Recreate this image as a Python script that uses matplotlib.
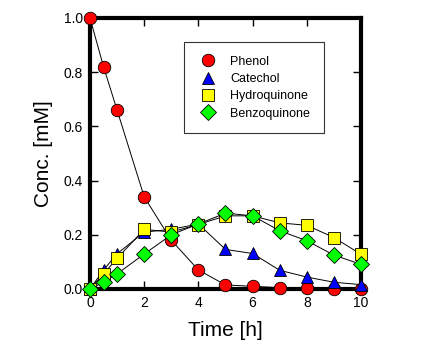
import numpy as np
import matplotlib.pyplot as plt

plt.rcParams['font.family'] = ['Liberation Sans', 'DejaVu Sans']

# ---------------- DATA ----------------
time_h = [0, 0.5, 1, 2, 3, 4, 5, 6, 7, 8, 9, 10]
phenol = [1.0, 0.82, 0.66, 0.34, 0.18, 0.07, 0.015, 0.01, 0.005, 0.005, 0.0, 0.0]
catechol = [0.0, 0.07, 0.13, 0.21, 0.22, 0.24, 0.146, 0.131, 0.069, 0.044, 0.025, 0.016]
hydroquinone = [0.0, 0.056, 0.113, 0.22, 0.21, 0.238, 0.27, 0.27, 0.244, 0.235, 0.19, 0.128]
benzoquinone = [0.0, 0.025, 0.056, 0.129, 0.20, 0.24, 0.28, 0.27, 0.215, 0.178, 0.125, 0.091]
# ----------------------------------------

fig = plt.figure(figsize=(4.31, 3.59), dpi=100)
ax = fig.add_axes([90 / 431, 1 - 289 / 359, 271 / 431, 271 / 359])

series = [
    (phenol, 'Phenol', 'o', '#ff0000', 9),
    (catechol, 'Catechol', '^', '#0000ff', 9),
    (hydroquinone, 'Hydroquinone', 's', '#ffff00', 8.5),
    (benzoquinone, 'Benzoquinone', 'D', '#00ff00', 8.5),
]

# lines first, then markers on top
for ys, name, mk, col, ms in series:
    ax.plot(time_h, ys, color='black', lw=0.7, zorder=2, clip_on=False)
handles = []
for i, (ys, name, mk, col, ms) in enumerate(series):
    h, = ax.plot(time_h, ys, ls='none', marker=mk, ms=ms, mfc=col, mec='black',
                 mew=0.6, zorder=3 + i, clip_on=False, label=name)
    handles.append(h)

ax.set_xlim(0, 10)
ax.set_ylim(0, 1.0)
ax.set_xticks(np.arange(0, 11, 2))
ax.set_yticks(np.arange(0, 1.01, 0.2))
ax.set_yticklabels([f"{v:.1f}" for v in np.arange(0, 1.01, 0.2)])
ax.tick_params(direction='in', length=6, width=1, labelsize=10, top=True, right=True, pad=5)
for sp in ax.spines.values():
    sp.set_linewidth(3)

ax.set_xlabel('Time [h]', fontsize=15, labelpad=8)
ax.set_ylabel('Conc. [mM]', fontsize=15, labelpad=8)

leg = ax.legend(handles=handles, loc='upper left', bbox_to_anchor=(0.347, 0.911),
                fontsize=9, frameon=True, fancybox=False, edgecolor='black',
                borderpad=1.1, labelspacing=0.42, handletextpad=1.0, borderaxespad=0,
                handlelength=1.6)
leg.get_frame().set_linewidth(0.8)

fig.savefig('out.png', dpi=100)
